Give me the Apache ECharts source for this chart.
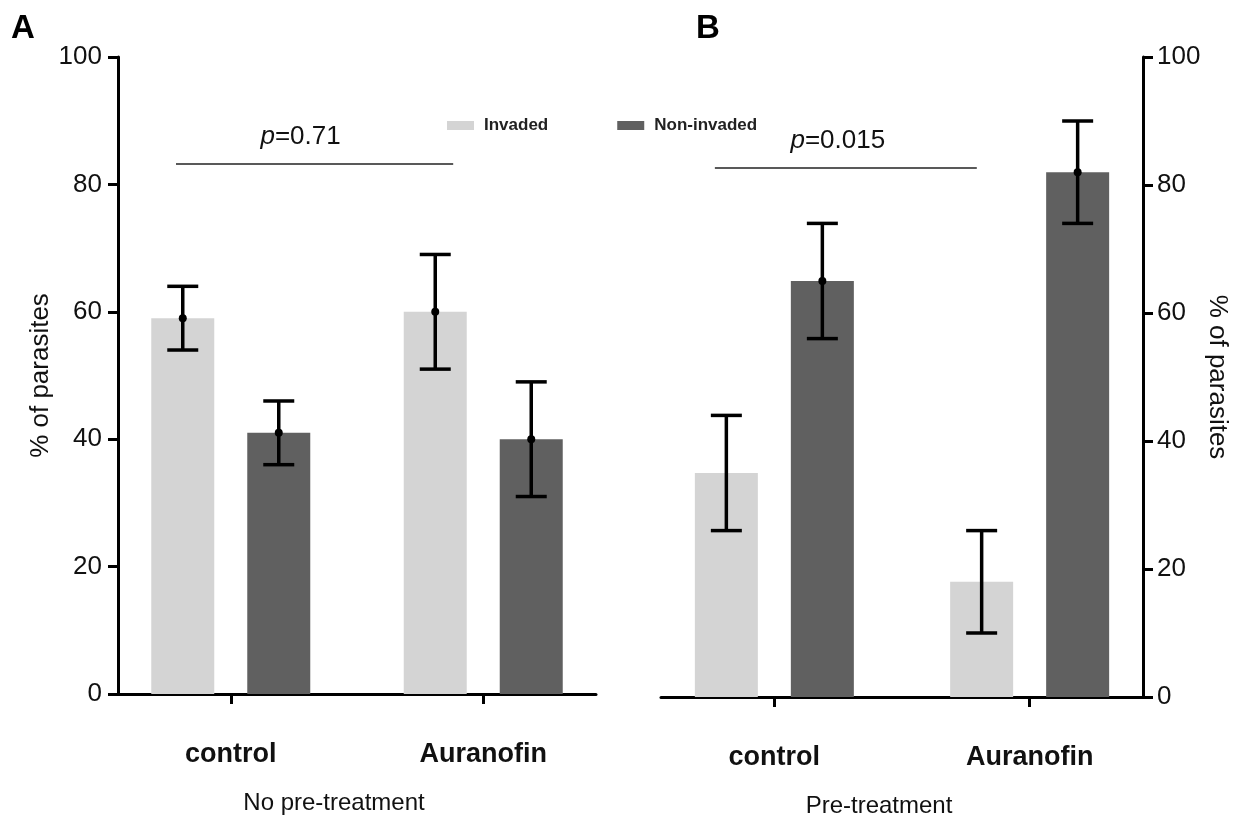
<!DOCTYPE html>
<html>
<head>
<meta charset="utf-8">
<script src="https://cdn.jsdelivr.net/npm/echarts@6/dist/echarts.min.js"></script>
<style>html,body{margin:0;padding:0;background:#fff}#c{width:1239px;height:816px}</style>
</head>
<body>
<div id="c"></div>
<script>
// ---- data ----
const categories = ['control', 'Auranofin'];
const seriesNames = ['Invaded', 'Non-invaded'];
const yTicks = [0, 20, 40, 60, 80, 100];

// Panel A: No pre-treatment
const A_invaded = [59, 60];
const A_invadedLow = [54, 51];
const A_invadedHigh = [64, 69];
const A_nonInvaded = [41, 40];
const A_nonInvadedLow = [36, 31];
const A_nonInvadedHigh = [46, 49];
const A_pText = '0.71';
const A_pLine = [[-0.217, 83.2], [0.881, 83.2]];

// Panel B: Pre-treatment
const B_invaded = [35, 18];
const B_invadedLow = [26, 10];
const B_invadedHigh = [44, 26];
const B_nonInvaded = [65, 82];
const B_nonInvadedLow = [56, 74];
const B_nonInvadedHigh = [74, 90];
const B_pText = '0.015';
const B_pLine = [[-0.233, 82.7], [0.793, 82.7]];

const panelTitles = ['No pre-treatment', 'Pre-treatment'];
const panelLetters = ['A', 'B'];

// ---- style ----
const FONT = '"Liberation Sans", Arial, sans-serif';
const C_INV = '#d4d4d4';
const C_NON = '#606060';
const BAR_W = 63;
const BAR_GAP_PX = 33;
const OFFSET = (BAR_W + BAR_GAP_PX) / 2;

function pts(vals) { return vals.map((v, i) => [i, v]); }
function errData(means, lo, hi) { return means.map((m, i) => [i, lo[i], hi[i], m]); }

function pMarkLine(line, txt, shift) {
  return {
    silent: true, symbol: 'none',
    lineStyle: { color: '#222', width: 1.5, type: 'solid' },
    label: {
      show: true, position: 'middle', distance: 14,
      formatter: '{i|p}{n|=' + txt + '}',
      padding: [0, shift, 0, 0],
      rich: {
        i: { fontStyle: 'italic', fontSize: 26, fontFamily: FONT, color: '#111' },
        n: { fontSize: 26, fontFamily: FONT, color: '#111' }
      }
    },
    data: [[{ coord: line[0] }, { coord: line[1] }]]
  };
}

function errSeries(xi, means, lo, hi, dir, showMean, mark) {
  const s = {
    type: 'custom', xAxisIndex: xi, yAxisIndex: xi, z: 10,
    data: errData(means, lo, hi),
    encode: { x: 0, y: [1, 2] },
    renderItem: function (params, api) {
      const x = api.value(0);
      const pLo = api.coord([x, api.value(1)]);
      const pHi = api.coord([x, api.value(2)]);
      const pM = api.coord([x, api.value(3)]);
      const cx = pLo[0] + dir * OFFSET;
      const half = 15.5;
      const st = { stroke: '#000', lineWidth: 3.5, fill: null };
      const ch = [
        { type: 'line', shape: { x1: cx, y1: pLo[1], x2: cx, y2: pHi[1] }, style: st },
        { type: 'line', shape: { x1: cx - half, y1: pLo[1], x2: cx + half, y2: pLo[1] }, style: st },
        { type: 'line', shape: { x1: cx - half, y1: pHi[1], x2: cx + half, y2: pHi[1] }, style: st }
      ];
      if (showMean) ch.push({ type: 'circle', shape: { cx: cx, cy: pM[1], r: 4 }, style: { fill: '#000' } });
      return { type: 'group', children: ch };
    }
  };
  if (mark) s.markLine = mark;
  return s;
}

const axisLine = { show: true, onZero: false, lineStyle: { color: '#000', width: 3 } };
const axisTick = { show: true, length: 10, lineStyle: { color: '#000', width: 3 } };

function xAxisFor(gi, mn, mx, title) {
  return {
    type: 'value', gridIndex: gi, min: mn, max: mx,
    splitLine: { show: false },
    axisLine: axisLine,
    axisTick: Object.assign({ customValues: [0, 1] }, axisTick),
    axisLabel: {
      customValues: [0, 1], margin: 47,
      formatter: v => categories[Math.round(v)],
      fontSize: 27, fontWeight: 'bold', color: '#111', fontFamily: FONT
    },
    name: title, nameLocation: 'middle', nameGap: 97,
    nameTextStyle: { fontSize: 24, color: '#111', fontFamily: FONT, padding: [0, 46, 0, 0] }
  };
}

function yAxisFor(gi, pos) {
  return {
    type: 'value', gridIndex: gi, min: 0, max: 100, interval: 20, position: pos,
    splitLine: { show: false },
    axisLine: axisLine, axisTick: axisTick,
    axisLabel: { fontSize: 26, color: '#111', fontFamily: FONT, margin: pos === 'left' ? 16 : 14,
      customValues: yTicks },
    name: '% of parasites', nameLocation: 'middle', nameGap: pos === 'left' ? 64 : 57,
    nameRotate: pos === 'left' ? 90 : -90,
    nameTextStyle: { fontSize: 26, color: '#111', fontFamily: FONT }
  };
}

const option = {
  backgroundColor: '#fff',
  animation: false,
  textStyle: { fontFamily: FONT },
  legend: {
    left: 442, top: 112, itemWidth: 27, itemHeight: 9, itemGap: 69,
    icon: 'rect',
    data: seriesNames,
    textStyle: { fontSize: 17, fontWeight: 'bold', color: '#222', fontFamily: FONT, padding: [0, 0, 0, 5] }
  },
  graphic: [
    { type: 'text', left: 11, top: 12, style: { text: panelLetters[0], font: 'bold 33px ' + FONT, fill: '#000' } },
    { type: 'text', left: 696, top: 12, style: { text: panelLetters[1], font: 'bold 33px ' + FONT, fill: '#000' } }
  ],
  grid: [
    { left: 118, top: 57, width: 478, height: 637, outerBoundsMode: 'none', containLabel: false },
    { left: 661, top: 57, width: 482, height: 640, outerBoundsMode: 'none', containLabel: false }
  ],
  xAxis: [
    xAxisFor(0, -0.4466, 1.4466, panelTitles[0]),
    xAxisFor(1, -0.444, 1.444, panelTitles[1])
  ],
  yAxis: [
    yAxisFor(0, 'left'),
    yAxisFor(1, 'right')
  ],
  series: [
    { name: seriesNames[0], type: 'bar', xAxisIndex: 0, yAxisIndex: 0, data: pts(A_invaded),
      barWidth: BAR_W, barGap: (BAR_GAP_PX / BAR_W * 100) + '%', itemStyle: { color: C_INV } },
    { name: seriesNames[1], type: 'bar', xAxisIndex: 0, yAxisIndex: 0, data: pts(A_nonInvaded),
      barWidth: BAR_W, barGap: (BAR_GAP_PX / BAR_W * 100) + '%', itemStyle: { color: C_NON } },
    { name: seriesNames[0], type: 'bar', xAxisIndex: 1, yAxisIndex: 1, data: pts(B_invaded),
      barWidth: BAR_W, barGap: (BAR_GAP_PX / BAR_W * 100) + '%', itemStyle: { color: C_INV } },
    { name: seriesNames[1], type: 'bar', xAxisIndex: 1, yAxisIndex: 1, data: pts(B_nonInvaded),
      barWidth: BAR_W, barGap: (BAR_GAP_PX / BAR_W * 100) + '%', itemStyle: { color: C_NON } },
    errSeries(0, A_invaded, A_invadedLow, A_invadedHigh, -1, true, pMarkLine(A_pLine, A_pText, 28)),
    errSeries(0, A_nonInvaded, A_nonInvadedLow, A_nonInvadedHigh, 1, true),
    errSeries(1, B_invaded, B_invadedLow, B_invadedHigh, -1, false, pMarkLine(B_pLine, B_pText, 16)),
    errSeries(1, B_nonInvaded, B_nonInvadedLow, B_nonInvadedHigh, 1, true)
  ]
};

const chart = echarts.init(document.getElementById('c'), null, { renderer: 'canvas' });
chart.setOption(option);
</script>
</body>
</html>
